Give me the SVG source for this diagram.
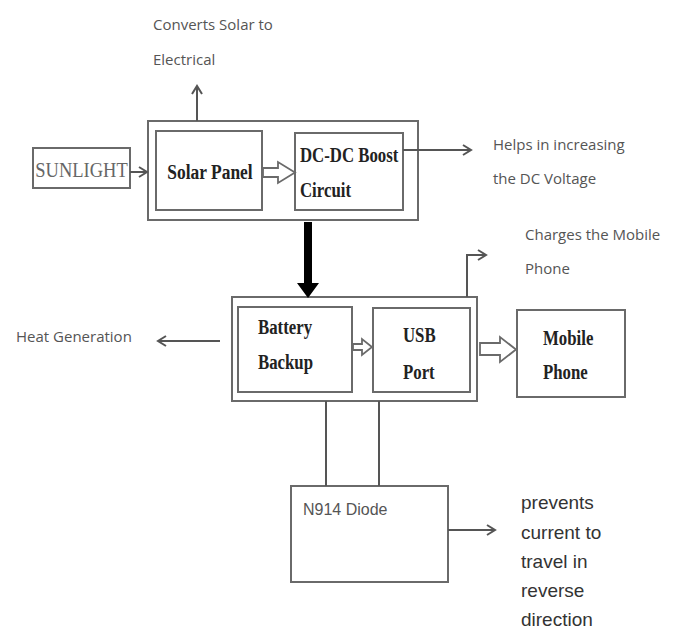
<svg xmlns="http://www.w3.org/2000/svg" width="678" height="630" viewBox="0 0 678 630">
<style>
.box{fill:#fff;stroke:#6a6a6a;stroke-width:2}
.line{fill:none;stroke:#555;stroke-width:2}
.hollow{fill:#fff;stroke:#6a6a6a;stroke-width:1.8;stroke-linejoin:miter}
.lbl{font-family:"Open Sans","Liberation Sans",sans-serif;font-size:15px;fill:#555}
.blk{font-family:"Liberation Serif",serif;font-weight:bold;font-size:21px;fill:#222}
.note{font-family:"Liberation Sans",sans-serif;font-size:19px;fill:#333}
</style>
<defs>
<marker id="open" markerWidth="12" markerHeight="12" refX="10" refY="6" orient="auto" markerUnits="userSpaceOnUse">
<path d="M2,1 L10,6 L2,11" fill="none" stroke="#555" stroke-width="2"/>
</marker>
</defs>
<rect width="678" height="630" fill="#fff"/>

<g id="sunlight">
<rect class="box" x="33" y="148" width="97" height="40"/>
<text transform="translate(81.5,177) scale(0.88,1)" text-anchor="middle" font-family="Liberation Serif,serif" font-size="21" fill="#666">SUNLIGHT</text>
</g>

<g id="top-group">
<rect class="box" x="148" y="121" width="270" height="99"/>
</g>
<g id="solar-panel">
<rect class="box" x="156" y="131" width="106" height="79"/>
<text class="blk" transform="translate(210,179) scale(0.83,1)" text-anchor="middle" font-size="22">Solar Panel</text>
</g>
<g id="dcdc">
<rect class="box" x="295" y="133" width="108" height="77"/>
<text class="blk" transform="translate(300,162) scale(0.8,1)">DC-DC Boost</text>
<text class="blk" transform="translate(300,197) scale(0.8,1)">Circuit</text>
</g>

<g id="bottom-group">
<rect class="box" x="232" y="297" width="245" height="104"/>
</g>
<g id="battery">
<rect class="box" x="238" y="307" width="114" height="85"/>
<text class="blk" transform="translate(258,334) scale(0.8,1)">Battery</text>
<text class="blk" transform="translate(258,369) scale(0.8,1)">Backup</text>
</g>
<g id="usb">
<rect class="box" x="373" y="308" width="97" height="84"/>
<text class="blk" transform="translate(403,342) scale(0.8,1)">USB</text>
<text class="blk" transform="translate(403,379) scale(0.8,1)">Port</text>
</g>
<g id="mobile">
<rect class="box" x="517" y="310" width="108" height="87"/>
<text class="blk" transform="translate(543,345) scale(0.8,1)">Mobile</text>
<text class="blk" transform="translate(543,379) scale(0.8,1)">Phone</text>
</g>
<g id="diode">
<rect class="box" x="291" y="486" width="157" height="96"/>
<text x="303" y="515" font-family="Liberation Sans,sans-serif" font-size="16" fill="#555">N914 Diode</text>
</g>

<g id="labels">
<text class="lbl" x="153" y="30">Converts Solar to</text>
<text class="lbl" x="153" y="65">Electrical</text>
<text class="lbl" x="493" y="150">Helps in increasing</text>
<text class="lbl" x="493" y="184">the DC Voltage</text>
<text class="lbl" x="525" y="240">Charges the Mobile</text>
<text class="lbl" x="525" y="274">Phone</text>
<text class="lbl" x="16" y="342">Heat Generation</text>
<text class="note" x="521" y="509">prevents</text>
<text class="note" x="521" y="539">current to</text>
<text class="note" x="521" y="568">travel in</text>
<text class="note" x="521" y="597">reverse</text>
<text class="note" x="521" y="626">direction</text>
</g>

<g id="connectors">
<line class="line" x1="130" y1="172" x2="147" y2="172" marker-end="url(#open)"/>
<line class="line" x1="197" y1="121" x2="197" y2="86" marker-end="url(#open)"/>
<line class="line" x1="403" y1="150" x2="471" y2="150" marker-end="url(#open)"/>
<polyline class="line" points="467,297 467,255 486,255" marker-end="url(#open)"/>
<line class="line" x1="220" y1="341" x2="158" y2="341" marker-end="url(#open)"/>
<line class="line" x1="326" y1="401" x2="326" y2="486"/>
<line class="line" x1="379" y1="401" x2="379" y2="486"/>
<line class="line" x1="448" y1="530" x2="495" y2="530" marker-end="url(#open)"/>
<path class="hollow" d="M263,168 H278 V162 L295,172.5 L278,183 V177 H263 Z"/>
<path class="hollow" d="M353,344 H362 V339 L372,347 L362,355 V350 H353 Z"/>
<path class="hollow" d="M480,343 H500 V337 L516,349.5 L500,362 V355 H480 Z"/>
<path d="M304,222 H312 V283 H319 L308,298 L297,283 H304 Z" fill="#000"/>
</g>
</svg>
